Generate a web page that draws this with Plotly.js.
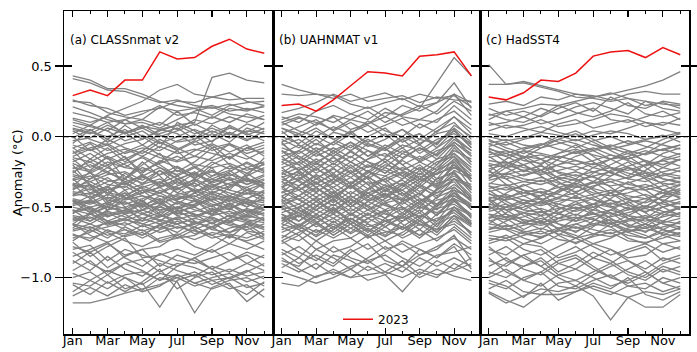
<!DOCTYPE html>
<html>
<head>
<meta charset="utf-8">
<script src="https://cdn.plot.ly/plotly-3.0.1.min.js"></script>
<style>html,body{margin:0;padding:0;background:#fff;}#chart{width:697px;height:352px;}</style>
</head>
<body>
<div id="chart"></div>
<script>
// ---- data ----
const monthNums = [1,2,3,4,5,6,7,8,9,10,11,12];
const tickVals = [1,3,5,7,9,11];
const tickText = ['Jan','Mar','May','Jul','Sep','Nov'];
const yTickVals = [-1.0,-0.5,0.0,0.5];
const panelTitles = ['(a) CLASSnmat v2','(b) UAHNMAT v1','(c) HadSST4'];
const yTitle = 'Anomaly (°C)';

const class2023 = [0.29,0.33,0.29,0.40,0.40,0.60,0.55,0.56,0.64,0.69,0.62,0.59];
const uah2023   = [0.22,0.23,0.18,0.26,0.36,0.46,0.45,0.43,0.57,0.58,0.60,0.43];
const hadsst2023 = [0.28,0.26,0.31,0.40,0.39,0.45,0.57,0.60,0.61,0.56,0.63,0.58];

const classGray = [
[0.43,0.40,0.34,0.34,0.30,0.25,0.22,0.20,0.22,0.18,0.20,0.17],
[0.41,0.38,0.33,0.32,0.28,0.24,0.26,0.22,0.20,0.23,0.19,0.21],
[0.12,0.08,0.15,0.20,0.25,0.33,0.37,0.30,0.28,0.31,0.25,0.22],
[0.05,0.02,0.08,0.03,0.07,0.05,0.08,0.10,0.42,0.45,0.40,0.38],
[0.26,0.22,0.20,0.15,0.18,0.20,0.25,0.24,0.28,0.26,0.27,0.27],
[0.25,0.24,0.17,0.14,0.12,0.21,0.18,0.20,0.15,0.22,0.24,0.25],
[0.17,0.14,0.10,0.12,0.16,0.22,0.15,0.17,0.13,0.20,0.18,0.22],
[0.21,0.17,0.12,0.09,0.10,0.06,0.12,0.18,0.21,0.16,0.14,0.12],
[0.13,0.10,0.14,0.09,0.12,0.08,0.18,0.08,0.14,0.10,0.16,0.12],
[0.10,0.07,0.04,0.12,0.06,0.10,0.05,0.12,0.09,0.14,0.10,0.15],
[0.06,0.03,0.00,0.05,-0.02,0.04,0.08,0.02,0.06,0.01,0.09,0.05],
[0.02,0.08,0.04,-0.03,0.01,-0.05,0.00,0.05,0.00,0.06,0.03,0.10],
[-0.03,-0.01,0.06,0.02,0.08,0.01,-0.04,-0.02,0.04,-0.01,0.04,0.02],
[-0.08,-0.04,-0.10,-0.05,-0.02,0.05,0.02,-0.06,-0.03,0.03,-0.02,0.00],
[-0.12,-0.08,-0.05,-0.12,-0.08,-0.10,-0.03,0.01,-0.08,-0.05,-0.10,-0.06],
[-0.15,-0.18,-0.12,-0.09,-0.14,-0.07,-0.12,-0.09,-0.12,-0.15,-0.08,-0.12],
[-0.18,-0.12,-0.20,-0.16,-0.10,-0.15,-0.18,-0.14,-0.17,-0.12,-0.16,-0.10],
[-0.22,-0.25,-0.18,-0.22,-0.24,-0.19,-0.14,-0.20,-0.22,-0.19,-0.24,-0.20],
[-0.25,-0.20,-0.26,-0.30,-0.22,-0.27,-0.24,-0.29,-0.25,-0.28,-0.22,-0.26],
[-0.28,-0.32,-0.27,-0.25,-0.31,-0.24,-0.30,-0.26,-0.32,-0.27,-0.30,-0.33],
[-0.31,-0.28,-0.34,-0.36,-0.29,-0.33,-0.28,-0.35,-0.30,-0.34,-0.36,-0.31],
[-0.34,-0.38,-0.32,-0.30,-0.37,-0.40,-0.35,-0.31,-0.38,-0.33,-0.31,-0.36],
[-0.37,-0.34,-0.40,-0.42,-0.36,-0.32,-0.40,-0.43,-0.36,-0.40,-0.44,-0.39],
[-0.40,-0.43,-0.38,-0.35,-0.42,-0.45,-0.41,-0.38,-0.43,-0.46,-0.40,-0.42],
[-0.42,-0.40,-0.45,-0.48,-0.44,-0.40,-0.46,-0.49,-0.45,-0.42,-0.47,-0.45],
[-0.45,-0.48,-0.43,-0.47,-0.50,-0.47,-0.44,-0.42,-0.48,-0.51,-0.46,-0.49],
[-0.48,-0.45,-0.50,-0.53,-0.47,-0.52,-0.50,-0.46,-0.52,-0.49,-0.53,-0.50],
[-0.50,-0.53,-0.48,-0.51,-0.55,-0.50,-0.54,-0.57,-0.51,-0.55,-0.52,-0.56],
[-0.53,-0.50,-0.56,-0.54,-0.52,-0.57,-0.53,-0.50,-0.56,-0.53,-0.58,-0.54],
[-0.56,-0.58,-0.53,-0.57,-0.60,-0.56,-0.59,-0.55,-0.58,-0.61,-0.56,-0.59],
[-0.59,-0.55,-0.60,-0.63,-0.58,-0.62,-0.57,-0.61,-0.64,-0.58,-0.61,-0.57],
[-0.62,-0.65,-0.61,-0.58,-0.64,-0.60,-0.65,-0.62,-0.59,-0.63,-0.66,-0.62],
[-0.66,-0.62,-0.67,-0.69,-0.63,-0.68,-0.64,-0.67,-0.70,-0.65,-0.62,-0.66],
[-0.70,-0.72,-0.68,-0.74,-0.78,-0.72,-0.69,-0.73,-0.68,-0.71,-0.74,-0.70],
[-0.10,-0.22,-0.15,-0.30,-0.20,-0.12,-0.25,-0.18,-0.08,-0.20,-0.28,-0.15],
[-0.35,-0.25,-0.42,-0.30,-0.18,-0.28,-0.40,-0.32,-0.22,-0.38,-0.26,-0.34],
[-0.55,-0.45,-0.38,-0.50,-0.60,-0.48,-0.36,-0.45,-0.55,-0.42,-0.50,-0.40],
[-0.20,-0.35,-0.48,-0.40,-0.52,-0.45,-0.55,-0.48,-0.40,-0.46,-0.38,-0.44],
[-0.65,-0.55,-0.50,-0.42,-0.35,-0.40,-0.32,-0.38,-0.45,-0.36,-0.30,-0.35],
[-0.45,-0.52,-0.60,-0.66,-0.70,-0.63,-0.58,-0.66,-0.61,-0.68,-0.64,-0.72],
[-0.30,-0.40,-0.35,-0.44,-0.38,-0.48,-0.52,-0.45,-0.50,-0.44,-0.48,-0.52],
[0.00,-0.10,-0.06,-0.15,-0.25,-0.18,-0.10,-0.22,-0.15,-0.05,-0.14,-0.20],
[-0.05,0.05,-0.02,0.08,0.00,-0.08,0.10,0.04,-0.04,0.08,0.02,-0.03],
[-0.58,-0.62,-0.55,-0.52,-0.45,-0.55,-0.62,-0.58,-0.52,-0.60,-0.55,-0.48],
[-0.38,-0.30,-0.25,-0.32,-0.28,-0.22,-0.30,-0.36,-0.28,-0.24,-0.32,-0.27],
[-0.48,-0.42,-0.52,-0.44,-0.40,-0.36,-0.45,-0.40,-0.35,-0.30,-0.38,-0.33],
[-0.72,-0.68,-0.60,-0.55,-0.62,-0.57,-0.50,-0.55,-0.62,-0.56,-0.60,-0.64],
[-0.62,-0.70,-0.75,-0.70,-0.66,-0.74,-0.70,-0.64,-0.70,-0.76,-0.68,-0.73],
[-0.12,-0.05,-0.15,-0.22,-0.14,-0.20,-0.28,-0.22,-0.30,-0.25,-0.18,-0.24],
[-0.26,-0.16,-0.22,-0.14,-0.28,-0.34,-0.22,-0.30,-0.20,-0.14,-0.22,-0.18],
[0.08,0.04,0.10,0.02,0.06,0.00,0.04,0.09,0.03,0.07,0.01,0.06],
[-0.01,0.05,-0.04,0.03,-0.06,0.02,0.06,-0.02,0.08,0.02,-0.03,0.04],
[-0.06,-0.10,-0.02,-0.08,-0.12,-0.04,-0.09,-0.03,-0.10,-0.06,-0.12,-0.08],
[-0.14,-0.09,-0.16,-0.11,-0.06,-0.13,-0.17,-0.10,-0.05,-0.11,-0.06,-0.14],
[-0.19,-0.24,-0.14,-0.20,-0.26,-0.17,-0.22,-0.27,-0.18,-0.23,-0.19,-0.25],
[-0.23,-0.18,-0.25,-0.19,-0.15,-0.22,-0.27,-0.21,-0.28,-0.21,-0.26,-0.19],
[-0.27,-0.30,-0.22,-0.28,-0.33,-0.27,-0.21,-0.28,-0.24,-0.31,-0.28,-0.22],
[-0.30,-0.26,-0.31,-0.34,-0.27,-0.35,-0.31,-0.25,-0.33,-0.29,-0.34,-0.30],
[-0.33,-0.36,-0.29,-0.38,-0.34,-0.30,-0.37,-0.33,-0.40,-0.35,-0.29,-0.37],
[-0.36,-0.32,-0.38,-0.33,-0.40,-0.36,-0.32,-0.39,-0.34,-0.38,-0.41,-0.33],
[-0.39,-0.41,-0.36,-0.44,-0.38,-0.42,-0.45,-0.37,-0.41,-0.44,-0.38,-0.40],
[-0.41,-0.37,-0.44,-0.40,-0.46,-0.38,-0.43,-0.46,-0.39,-0.43,-0.45,-0.47],
[-0.44,-0.47,-0.41,-0.45,-0.42,-0.48,-0.42,-0.44,-0.49,-0.45,-0.50,-0.43],
[-0.46,-0.50,-0.47,-0.43,-0.49,-0.44,-0.51,-0.48,-0.44,-0.50,-0.47,-0.52],
[-0.49,-0.46,-0.52,-0.50,-0.46,-0.53,-0.47,-0.52,-0.55,-0.47,-0.54,-0.48],
[-0.52,-0.55,-0.49,-0.55,-0.52,-0.49,-0.56,-0.53,-0.49,-0.57,-0.51,-0.55],
[-0.54,-0.51,-0.57,-0.52,-0.58,-0.54,-0.50,-0.56,-0.53,-0.51,-0.57,-0.52],
[-0.57,-0.60,-0.54,-0.60,-0.55,-0.59,-0.62,-0.58,-0.61,-0.56,-0.59,-0.61],
[-0.60,-0.57,-0.63,-0.59,-0.62,-0.65,-0.60,-0.64,-0.57,-0.62,-0.64,-0.58],
[-0.63,-0.67,-0.64,-0.61,-0.67,-0.63,-0.68,-0.60,-0.66,-0.68,-0.61,-0.65],
[-0.67,-0.64,-0.70,-0.66,-0.72,-0.66,-0.62,-0.69,-0.64,-0.60,-0.67,-0.69],
[-0.69,-0.74,-0.66,-0.71,-0.68,-0.75,-0.72,-0.66,-0.72,-0.69,-0.72,-0.67],
[-0.16,-0.26,-0.20,-0.34,-0.28,-0.36,-0.30,-0.40,-0.32,-0.26,-0.34,-0.28],
[-0.42,-0.34,-0.46,-0.38,-0.50,-0.42,-0.48,-0.40,-0.46,-0.52,-0.44,-0.38],
[-0.52,-0.60,-0.52,-0.46,-0.54,-0.60,-0.52,-0.60,-0.66,-0.58,-0.52,-0.60],
[-0.08,-0.16,-0.08,-0.18,-0.10,-0.02,-0.08,-0.14,-0.06,-0.16,-0.08,-0.04],
[-0.24,-0.34,-0.40,-0.32,-0.40,-0.32,-0.38,-0.30,-0.36,-0.30,-0.40,-0.46],
[-0.62,-0.54,-0.46,-0.54,-0.48,-0.56,-0.46,-0.50,-0.42,-0.48,-0.44,-0.52],
[-0.34,-0.44,-0.36,-0.26,-0.34,-0.24,-0.34,-0.26,-0.34,-0.42,-0.36,-0.44],
[-0.74,-0.66,-0.72,-0.64,-0.70,-0.62,-0.72,-0.70,-0.64,-0.72,-0.62,-0.70],
[0.04,-0.02,-0.06,0.00,0.04,-0.04,-0.10,-0.04,0.02,-0.04,0.06,0.02],
[-0.46,-0.54,-0.62,-0.58,-0.52,-0.46,-0.56,-0.62,-0.56,-0.48,-0.56,-0.50],
[-0.78,-0.82,-0.76,-0.84,-0.80,-0.78,-0.70,-0.78,-0.82,-0.76,-0.80,-0.74],
[-0.75,-0.85,-0.78,-0.72,-0.86,-0.84,-0.80,-0.84,-0.78,-0.70,-0.75,-0.80],
[-0.80,-0.77,-0.88,-0.80,-0.84,-0.88,-0.92,-0.86,-0.80,-0.88,-0.82,-0.86],
[-0.85,-0.80,-0.75,-0.86,-0.92,-0.83,-0.88,-0.90,-0.86,-0.82,-0.90,-0.84],
[-0.90,-0.82,-0.93,-0.85,-0.80,-0.92,-0.84,-0.88,-0.94,-0.88,-0.84,-0.92],
[-0.88,-0.95,-0.85,-0.94,-0.99,-0.90,-0.95,-0.99,-0.92,-0.96,-0.90,-0.95],
[-0.95,-0.88,-0.98,-0.90,-0.87,-0.96,-0.90,-0.93,-0.98,-0.94,-0.99,-0.96],
[-0.97,-1.02,-0.95,-1.00,-1.05,-0.97,-1.00,-0.96,-1.02,-1.00,-0.95,-1.01],
[-1.00,-0.96,-1.04,-0.98,-0.96,-1.02,-0.98,-1.04,-1.00,-0.97,-1.03,-0.99],
[-1.04,-1.06,-0.98,-1.08,-1.04,-1.21,-1.02,-0.98,-1.05,-1.00,-1.07,-1.04],
[-1.10,-1.02,-1.08,-1.00,-1.09,-1.00,-1.03,-1.25,-1.07,-1.02,-1.00,-1.06],
[-1.13,-1.07,-1.13,-1.05,-1.10,-1.06,-0.98,-1.04,-1.08,-1.04,-1.17,-1.08],
[-1.18,-1.18,-1.15,-1.11,-1.08,-1.05,-1.00,-1.06,-1.02,-1.08,-1.05,-1.14],
[-1.05,-1.12,-1.03,-1.10,-1.03,-0.94,-1.08,-1.00,-0.96,-1.06,-1.12,-1.03],
[-0.82,-0.90,-0.96,-0.90,-0.95,-1.02,-0.92,-0.86,-0.94,-1.01,-0.96,-0.90]
];

const uahGray = [
[0.37,0.33,0.30,0.29,0.23,0.20,0.24,0.27,0.21,0.24,0.30,0.24],
[0.30,0.29,0.30,0.27,0.30,0.25,0.27,0.29,0.24,0.28,0.26,0.25],
[0.17,0.20,0.24,0.30,0.25,0.28,0.31,0.26,0.30,0.27,0.29,0.21],
[0.10,0.14,0.08,0.15,0.12,0.09,0.17,0.15,0.20,0.38,0.56,0.43],
[0.12,0.16,0.14,0.10,0.16,0.21,0.14,0.22,0.18,0.24,0.38,0.20],
[0.14,0.10,0.18,0.22,0.16,0.12,0.20,0.14,0.12,0.18,0.30,0.15],
[0.08,0.13,0.10,0.05,0.12,0.18,0.10,0.16,0.22,0.16,0.25,0.18],
[0.06,0.02,0.09,0.14,0.05,0.09,0.14,0.08,0.12,0.10,0.22,0.12],
[0.02,0.07,0.12,0.04,0.10,0.03,0.08,0.13,0.06,0.12,0.18,0.08],
[0.10,0.04,0.00,0.07,0.02,0.11,0.04,0.00,0.09,0.03,0.14,0.05],
[0.00,-0.05,0.04,-0.02,-0.08,0.00,0.06,-0.04,0.02,-0.06,0.08,0.00],
[-0.04,0.02,-0.06,0.03,0.00,-0.07,-0.02,0.05,-0.05,0.02,0.05,-0.08],
[-0.08,-0.12,-0.05,-0.10,-0.04,-0.10,-0.14,-0.06,-0.10,-0.02,0.02,-0.05],
[-0.12,-0.06,-0.14,-0.08,-0.15,-0.05,-0.09,-0.15,-0.08,-0.13,-0.04,-0.12],
[-0.16,-0.20,-0.12,-0.18,-0.11,-0.18,-0.22,-0.12,-0.17,-0.10,-0.06,-0.18],
[-0.20,-0.14,-0.22,-0.15,-0.22,-0.16,-0.12,-0.20,-0.14,-0.20,-0.10,-0.16],
[-0.24,-0.28,-0.19,-0.26,-0.18,-0.25,-0.28,-0.22,-0.27,-0.18,-0.14,-0.25],
[-0.27,-0.22,-0.30,-0.23,-0.29,-0.21,-0.24,-0.30,-0.22,-0.27,-0.20,-0.30],
[-0.30,-0.35,-0.27,-0.33,-0.26,-0.34,-0.30,-0.25,-0.32,-0.26,-0.22,-0.28],
[-0.34,-0.29,-0.36,-0.30,-0.37,-0.29,-0.35,-0.38,-0.30,-0.35,-0.28,-0.36],
[-0.37,-0.42,-0.33,-0.40,-0.32,-0.40,-0.36,-0.31,-0.39,-0.33,-0.30,-0.34],
[-0.40,-0.36,-0.43,-0.36,-0.44,-0.37,-0.42,-0.45,-0.36,-0.42,-0.34,-0.43],
[-0.43,-0.48,-0.40,-0.47,-0.39,-0.46,-0.42,-0.38,-0.46,-0.40,-0.36,-0.45],
[-0.46,-0.42,-0.49,-0.42,-0.50,-0.43,-0.49,-0.52,-0.44,-0.48,-0.40,-0.49],
[-0.49,-0.54,-0.46,-0.52,-0.45,-0.52,-0.47,-0.44,-0.51,-0.45,-0.42,-0.50],
[-0.52,-0.48,-0.55,-0.48,-0.55,-0.49,-0.55,-0.58,-0.50,-0.54,-0.46,-0.55],
[-0.55,-0.60,-0.52,-0.58,-0.51,-0.58,-0.53,-0.50,-0.57,-0.51,-0.48,-0.56],
[-0.58,-0.54,-0.61,-0.55,-0.62,-0.55,-0.60,-0.64,-0.56,-0.60,-0.52,-0.61],
[-0.62,-0.66,-0.58,-0.64,-0.58,-0.64,-0.60,-0.56,-0.63,-0.58,-0.54,-0.63],
[-0.66,-0.62,-0.68,-0.62,-0.69,-0.62,-0.67,-0.70,-0.62,-0.66,-0.60,-0.68],
[-0.70,-0.74,-0.66,-0.72,-0.65,-0.71,-0.68,-0.64,-0.70,-0.66,-0.62,-0.72],
[-0.22,-0.32,-0.40,-0.30,-0.20,-0.30,-0.42,-0.34,-0.24,-0.36,-0.18,-0.32],
[-0.45,-0.35,-0.28,-0.38,-0.48,-0.38,-0.30,-0.40,-0.50,-0.38,-0.26,-0.40],
[-0.10,-0.20,-0.30,-0.22,-0.34,-0.26,-0.18,-0.28,-0.36,-0.26,-0.16,-0.30],
[-0.60,-0.50,-0.44,-0.54,-0.42,-0.50,-0.58,-0.46,-0.40,-0.48,-0.36,-0.46],
[-0.35,-0.45,-0.52,-0.44,-0.56,-0.46,-0.40,-0.50,-0.58,-0.48,-0.40,-0.52],
[-0.72,-0.64,-0.56,-0.66,-0.55,-0.62,-0.70,-0.60,-0.54,-0.64,-0.50,-0.60],
[-0.05,-0.14,-0.20,-0.10,-0.18,-0.25,-0.15,-0.08,-0.18,-0.12,0.00,-0.10],
[-0.55,-0.64,-0.70,-0.60,-0.68,-0.58,-0.52,-0.62,-0.70,-0.60,-0.45,-0.58],
[-0.18,-0.10,-0.02,-0.12,-0.04,-0.14,-0.08,0.00,-0.06,0.04,0.10,-0.02],
[-0.28,-0.38,-0.32,-0.42,-0.35,-0.45,-0.38,-0.44,-0.34,-0.40,-0.30,-0.42],
[-0.42,-0.52,-0.58,-0.50,-0.62,-0.54,-0.64,-0.56,-0.48,-0.56,-0.42,-0.50],
[-0.50,-0.42,-0.36,-0.46,-0.34,-0.42,-0.36,-0.46,-0.42,-0.30,-0.25,-0.38],
[-0.64,-0.56,-0.62,-0.52,-0.60,-0.68,-0.58,-0.66,-0.60,-0.68,-0.56,-0.64],
[-0.32,-0.24,-0.18,-0.28,-0.36,-0.28,-0.20,-0.24,-0.30,-0.22,-0.12,-0.24],
[0.06,0.00,0.06,-0.02,0.03,0.08,0.00,0.05,-0.02,0.06,0.14,0.02],
[-0.02,-0.08,0.00,-0.06,0.02,-0.04,0.02,-0.08,-0.02,-0.05,0.06,-0.04],
[-0.06,-0.02,-0.10,-0.04,-0.10,-0.02,-0.08,-0.02,-0.12,-0.04,0.04,-0.08],
[-0.10,-0.16,-0.08,-0.14,-0.06,-0.14,-0.06,-0.12,-0.06,-0.14,-0.02,-0.10],
[-0.14,-0.10,-0.18,-0.12,-0.18,-0.10,-0.18,-0.10,-0.16,-0.08,0.00,-0.14],
[-0.18,-0.24,-0.16,-0.22,-0.14,-0.22,-0.16,-0.24,-0.18,-0.24,-0.08,-0.20],
[-0.22,-0.18,-0.26,-0.19,-0.26,-0.20,-0.26,-0.17,-0.24,-0.16,-0.12,-0.22],
[-0.26,-0.31,-0.23,-0.29,-0.22,-0.30,-0.22,-0.28,-0.20,-0.30,-0.16,-0.27],
[-0.29,-0.25,-0.33,-0.27,-0.33,-0.25,-0.32,-0.26,-0.34,-0.24,-0.18,-0.32],
[-0.32,-0.38,-0.30,-0.36,-0.29,-0.37,-0.28,-0.35,-0.28,-0.37,-0.24,-0.30],
[-0.36,-0.31,-0.39,-0.33,-0.41,-0.32,-0.39,-0.33,-0.41,-0.30,-0.26,-0.38],
[-0.39,-0.45,-0.37,-0.43,-0.35,-0.43,-0.34,-0.42,-0.34,-0.44,-0.30,-0.37],
[-0.42,-0.38,-0.46,-0.39,-0.47,-0.40,-0.46,-0.40,-0.48,-0.37,-0.32,-0.46],
[-0.45,-0.51,-0.43,-0.49,-0.42,-0.49,-0.41,-0.48,-0.40,-0.50,-0.38,-0.44],
[-0.48,-0.44,-0.52,-0.45,-0.53,-0.46,-0.52,-0.46,-0.54,-0.43,-0.38,-0.52],
[-0.51,-0.57,-0.49,-0.55,-0.48,-0.56,-0.47,-0.54,-0.46,-0.56,-0.44,-0.50],
[-0.54,-0.50,-0.58,-0.51,-0.59,-0.52,-0.58,-0.51,-0.60,-0.49,-0.44,-0.57],
[-0.57,-0.63,-0.55,-0.61,-0.54,-0.61,-0.54,-0.60,-0.52,-0.62,-0.50,-0.56],
[-0.60,-0.56,-0.64,-0.58,-0.65,-0.58,-0.64,-0.57,-0.66,-0.55,-0.50,-0.62],
[-0.64,-0.70,-0.61,-0.68,-0.60,-0.67,-0.60,-0.66,-0.58,-0.68,-0.56,-0.62],
[-0.68,-0.63,-0.71,-0.64,-0.72,-0.65,-0.71,-0.64,-0.72,-0.62,-0.56,-0.70],
[-0.04,-0.16,-0.24,-0.14,-0.26,-0.16,-0.08,-0.20,-0.30,-0.20,-0.06,-0.18],
[-0.40,-0.30,-0.22,-0.32,-0.24,-0.34,-0.44,-0.36,-0.26,-0.34,-0.20,-0.36],
[-0.50,-0.60,-0.50,-0.40,-0.50,-0.40,-0.48,-0.56,-0.46,-0.38,-0.30,-0.44],
[-0.14,-0.24,-0.34,-0.26,-0.36,-0.28,-0.38,-0.30,-0.22,-0.32,-0.22,-0.28],
[-0.62,-0.52,-0.60,-0.70,-0.62,-0.70,-0.62,-0.54,-0.62,-0.70,-0.58,-0.68],
[-0.26,-0.18,-0.10,-0.20,-0.10,-0.18,-0.26,-0.16,-0.08,-0.16,-0.04,-0.14],
[-0.46,-0.56,-0.46,-0.54,-0.44,-0.52,-0.44,-0.34,-0.44,-0.52,-0.40,-0.48],
[-0.36,-0.26,-0.36,-0.44,-0.34,-0.24,-0.32,-0.42,-0.32,-0.24,-0.14,-0.30],
[-0.58,-0.66,-0.74,-0.66,-0.58,-0.66,-0.74,-0.68,-0.60,-0.66,-0.52,-0.62],
[-0.74,-0.68,-0.62,-0.70,-0.62,-0.72,-0.64,-0.72,-0.66,-0.74,-0.64,-0.74],
[0.04,-0.06,-0.12,-0.04,0.04,-0.06,-0.10,-0.02,0.02,-0.08,0.04,-0.06],
[-0.76,-0.70,-0.80,-0.74,-0.72,-0.80,-0.74,-0.82,-0.76,-0.72,-0.66,-0.76],
[-0.80,-0.86,-0.74,-0.82,-0.78,-0.70,-0.80,-0.76,-0.84,-0.78,-0.72,-0.80],
[-0.74,-0.82,-0.88,-0.78,-0.86,-0.90,-0.82,-0.74,-0.80,-0.86,-0.76,-0.84],
[-0.84,-0.78,-0.86,-0.92,-0.82,-0.76,-0.88,-0.92,-0.84,-0.80,-0.70,-0.88],
[-0.88,-0.92,-0.80,-0.86,-0.94,-0.86,-0.78,-0.86,-0.92,-0.84,-0.82,-0.78],
[-0.93,-0.86,-0.94,-0.84,-0.88,-0.95,-0.90,-0.96,-0.86,-0.92,-0.86,-0.92],
[-0.90,-0.96,-0.90,-0.98,-0.92,-0.88,-0.96,-0.88,-0.98,-0.88,-0.94,-0.86],
[-0.86,-0.94,-1.00,-0.94,-1.00,-0.92,-0.98,-1.10,-0.96,-1.00,-0.90,-0.96],
[-1.04,-1.06,-0.99,-0.96,-1.00,-0.98,-0.96,-1.00,-0.94,-0.98,-0.95,-0.90],
[-0.96,-1.00,-1.04,-1.00,-0.94,-1.02,-0.98,-0.92,-1.00,-0.94,-0.99,-1.02],
[-0.82,-0.90,-0.84,-0.90,-0.80,-0.88,-0.84,-0.92,-0.80,-0.86,-0.78,-0.94]
];

const hadsstGray = [
[0.51,0.37,0.38,0.35,0.32,0.28,0.27,0.25,0.27,0.22,0.24,0.20],
[0.37,0.37,0.39,0.36,0.33,0.30,0.28,0.31,0.27,0.25,0.23,0.22],
[0.15,0.18,0.20,0.23,0.22,0.25,0.28,0.30,0.33,0.36,0.40,0.46],
[0.23,0.25,0.22,0.28,0.26,0.30,0.29,0.26,0.30,0.32,0.30,0.30],
[0.20,0.15,0.18,0.14,0.20,0.24,0.18,0.28,0.22,0.20,0.25,0.23],
[0.12,0.18,0.14,0.20,0.16,0.21,0.24,0.20,0.16,0.25,0.20,0.18],
[0.16,0.12,0.10,0.15,0.22,0.17,0.14,0.18,0.24,0.16,0.14,0.17],
[0.08,0.10,0.14,0.09,0.12,0.16,0.20,0.12,0.10,0.14,0.18,0.12],
[0.10,0.06,0.08,0.12,0.07,0.09,0.12,0.16,0.14,0.10,0.08,0.13],
[0.04,0.08,0.06,0.03,0.09,0.12,0.06,0.09,0.12,0.07,0.10,0.08],
[0.02,0.00,0.04,0.07,0.03,0.00,0.04,0.02,0.06,0.10,0.05,0.02],
[-0.03,-0.06,-0.02,0.01,-0.04,-0.08,-0.03,0.00,-0.05,-0.02,0.01,-0.04],
[-0.07,-0.04,-0.09,-0.06,-0.02,-0.05,-0.10,-0.07,-0.03,-0.07,-0.10,-0.06],
[-0.11,-0.14,-0.10,-0.12,-0.15,-0.11,-0.08,-0.13,-0.16,-0.12,-0.09,-0.13],
[-0.15,-0.12,-0.17,-0.19,-0.14,-0.17,-0.20,-0.16,-0.12,-0.17,-0.20,-0.16],
[-0.19,-0.22,-0.20,-0.16,-0.21,-0.24,-0.19,-0.22,-0.24,-0.20,-0.17,-0.21],
[-0.23,-0.20,-0.24,-0.27,-0.24,-0.21,-0.25,-0.28,-0.22,-0.25,-0.28,-0.24],
[-0.27,-0.30,-0.27,-0.24,-0.29,-0.31,-0.28,-0.25,-0.30,-0.32,-0.27,-0.30],
[-0.31,-0.28,-0.32,-0.34,-0.30,-0.27,-0.32,-0.35,-0.33,-0.29,-0.33,-0.35],
[-0.35,-0.38,-0.35,-0.31,-0.36,-0.39,-0.35,-0.32,-0.37,-0.38,-0.35,-0.32],
[-0.39,-0.36,-0.40,-0.42,-0.39,-0.35,-0.40,-0.42,-0.40,-0.36,-0.40,-0.43],
[-0.43,-0.45,-0.42,-0.39,-0.44,-0.46,-0.43,-0.40,-0.45,-0.47,-0.43,-0.41],
[-0.46,-0.43,-0.47,-0.49,-0.46,-0.43,-0.48,-0.50,-0.47,-0.44,-0.48,-0.50],
[-0.50,-0.52,-0.50,-0.46,-0.50,-0.53,-0.50,-0.47,-0.51,-0.53,-0.50,-0.47],
[-0.53,-0.50,-0.54,-0.56,-0.54,-0.50,-0.55,-0.57,-0.54,-0.51,-0.55,-0.57],
[-0.57,-0.59,-0.57,-0.53,-0.58,-0.60,-0.57,-0.54,-0.58,-0.60,-0.57,-0.54],
[-0.60,-0.57,-0.61,-0.63,-0.60,-0.57,-0.62,-0.64,-0.60,-0.58,-0.62,-0.64],
[-0.64,-0.66,-0.63,-0.60,-0.65,-0.67,-0.63,-0.61,-0.66,-0.67,-0.64,-0.61],
[-0.68,-0.65,-0.69,-0.71,-0.67,-0.64,-0.69,-0.71,-0.67,-0.65,-0.69,-0.71],
[-0.72,-0.74,-0.70,-0.67,-0.73,-0.75,-0.71,-0.68,-0.74,-0.75,-0.72,-0.68],
[-0.10,-0.18,-0.25,-0.20,-0.12,-0.06,-0.14,-0.22,-0.28,-0.20,-0.12,-0.08],
[-0.30,-0.22,-0.15,-0.24,-0.32,-0.40,-0.32,-0.24,-0.18,-0.26,-0.34,-0.40],
[-0.48,-0.40,-0.34,-0.40,-0.50,-0.56,-0.48,-0.40,-0.32,-0.38,-0.46,-0.52],
[-0.20,-0.30,-0.38,-0.45,-0.40,-0.32,-0.28,-0.36,-0.44,-0.50,-0.42,-0.34],
[-0.58,-0.50,-0.45,-0.52,-0.62,-0.68,-0.60,-0.52,-0.46,-0.54,-0.62,-0.66],
[-0.40,-0.48,-0.56,-0.62,-0.55,-0.48,-0.44,-0.50,-0.58,-0.64,-0.56,-0.50],
[-0.66,-0.60,-0.54,-0.60,-0.70,-0.76,-0.70,-0.62,-0.56,-0.62,-0.70,-0.74],
[-0.05,-0.10,-0.15,-0.08,-0.02,0.02,-0.04,-0.10,-0.16,-0.12,-0.05,0.00],
[-0.45,-0.55,-0.62,-0.56,-0.48,-0.42,-0.50,-0.58,-0.64,-0.58,-0.50,-0.46],
[-0.25,-0.16,-0.10,-0.16,-0.26,-0.30,-0.22,-0.16,-0.10,-0.18,-0.26,-0.28],
[-0.55,-0.62,-0.68,-0.72,-0.66,-0.58,-0.54,-0.60,-0.68,-0.72,-0.66,-0.60],
[-0.35,-0.42,-0.48,-0.42,-0.34,-0.30,-0.38,-0.45,-0.52,-0.46,-0.38,-0.34],
[0.00,-0.03,-0.01,0.03,0.01,-0.03,0.01,0.04,0.02,-0.02,0.00,0.03],
[-0.05,-0.02,-0.06,-0.08,-0.05,-0.02,-0.06,-0.09,-0.06,-0.03,-0.06,-0.09],
[-0.09,-0.12,-0.08,-0.05,-0.09,-0.12,-0.09,-0.06,-0.10,-0.13,-0.09,-0.06],
[-0.13,-0.10,-0.14,-0.16,-0.12,-0.09,-0.13,-0.16,-0.14,-0.10,-0.14,-0.17],
[-0.17,-0.19,-0.15,-0.13,-0.17,-0.20,-0.17,-0.13,-0.17,-0.21,-0.17,-0.14],
[-0.21,-0.18,-0.22,-0.24,-0.20,-0.17,-0.22,-0.25,-0.21,-0.17,-0.22,-0.25],
[-0.25,-0.27,-0.24,-0.21,-0.25,-0.28,-0.25,-0.22,-0.26,-0.29,-0.25,-0.22],
[-0.29,-0.26,-0.30,-0.32,-0.28,-0.25,-0.29,-0.32,-0.29,-0.26,-0.30,-0.33],
[-0.33,-0.35,-0.32,-0.29,-0.33,-0.36,-0.33,-0.30,-0.34,-0.36,-0.32,-0.29],
[-0.37,-0.34,-0.38,-0.40,-0.36,-0.33,-0.37,-0.40,-0.37,-0.34,-0.38,-0.41],
[-0.41,-0.43,-0.40,-0.37,-0.41,-0.44,-0.41,-0.38,-0.42,-0.44,-0.40,-0.37],
[-0.44,-0.41,-0.45,-0.47,-0.43,-0.40,-0.45,-0.48,-0.44,-0.41,-0.45,-0.48],
[-0.48,-0.50,-0.47,-0.44,-0.48,-0.51,-0.48,-0.45,-0.49,-0.51,-0.47,-0.44],
[-0.51,-0.48,-0.52,-0.54,-0.51,-0.48,-0.52,-0.55,-0.52,-0.49,-0.53,-0.55],
[-0.55,-0.57,-0.54,-0.51,-0.55,-0.58,-0.55,-0.52,-0.56,-0.58,-0.54,-0.51],
[-0.58,-0.55,-0.59,-0.61,-0.58,-0.55,-0.59,-0.62,-0.59,-0.56,-0.60,-0.62],
[-0.62,-0.64,-0.61,-0.58,-0.62,-0.65,-0.62,-0.59,-0.63,-0.65,-0.61,-0.58],
[-0.66,-0.63,-0.67,-0.69,-0.65,-0.62,-0.66,-0.69,-0.65,-0.62,-0.66,-0.69],
[-0.70,-0.72,-0.68,-0.65,-0.69,-0.72,-0.69,-0.66,-0.70,-0.72,-0.68,-0.65],
[-0.14,-0.22,-0.28,-0.24,-0.16,-0.10,-0.18,-0.26,-0.30,-0.24,-0.16,-0.12],
[-0.34,-0.26,-0.20,-0.28,-0.36,-0.42,-0.36,-0.28,-0.22,-0.30,-0.38,-0.44],
[-0.52,-0.44,-0.38,-0.44,-0.54,-0.60,-0.52,-0.44,-0.36,-0.42,-0.50,-0.56],
[-0.24,-0.34,-0.42,-0.48,-0.44,-0.36,-0.32,-0.40,-0.48,-0.54,-0.46,-0.38],
[-0.62,-0.54,-0.48,-0.56,-0.66,-0.72,-0.64,-0.56,-0.50,-0.58,-0.66,-0.70],
[-0.44,-0.52,-0.60,-0.66,-0.58,-0.52,-0.48,-0.54,-0.62,-0.68,-0.60,-0.54],
[-0.02,-0.08,-0.12,-0.06,0.00,0.04,-0.02,-0.08,-0.12,-0.08,-0.02,0.02],
[-0.49,-0.58,-0.66,-0.60,-0.52,-0.46,-0.54,-0.62,-0.68,-0.62,-0.54,-0.50],
[-0.28,-0.20,-0.14,-0.20,-0.30,-0.34,-0.26,-0.20,-0.14,-0.22,-0.30,-0.32],
[-0.59,-0.66,-0.72,-0.76,-0.70,-0.62,-0.58,-0.64,-0.72,-0.76,-0.70,-0.64],
[-0.38,-0.46,-0.52,-0.46,-0.38,-0.34,-0.42,-0.49,-0.56,-0.50,-0.42,-0.38],
[-0.08,-0.14,-0.20,-0.26,-0.20,-0.14,-0.10,-0.16,-0.22,-0.28,-0.22,-0.16],
[-0.74,-0.70,-0.76,-0.72,-0.66,-0.70,-0.76,-0.72,-0.66,-0.70,-0.76,-0.74],
[-0.76,-0.72,-0.80,-0.84,-0.78,-0.72,-0.78,-0.84,-0.80,-0.76,-0.82,-0.78],
[-0.80,-0.84,-0.76,-0.78,-0.86,-0.82,-0.76,-0.80,-0.86,-0.84,-0.76,-0.80],
[-0.84,-0.78,-0.86,-0.92,-0.84,-0.78,-0.86,-0.90,-0.82,-0.78,-0.88,-0.84],
[-0.88,-0.92,-0.84,-0.80,-0.90,-0.94,-0.86,-0.80,-0.88,-0.94,-0.86,-0.90],
[-0.92,-0.86,-0.94,-0.98,-0.90,-0.86,-0.94,-1.00,-0.94,-0.88,-0.96,-0.92],
[-0.96,-1.00,-0.92,-0.88,-0.98,-1.02,-0.96,-0.90,-0.98,-1.02,-0.94,-0.98],
[-1.00,-0.94,-1.02,-1.06,-0.98,-0.94,-1.00,-1.06,-1.02,-0.96,-1.04,-1.00],
[-1.04,-1.08,-1.00,-0.96,-1.06,-1.08,-1.02,-0.98,-1.06,-1.08,-1.00,-1.04],
[-1.08,-1.02,-1.10,-1.12,-1.04,-1.02,-1.08,-1.12,-1.06,-1.04,-1.10,-1.06],
[-1.11,-1.18,-1.13,-1.08,-1.10,-1.06,-1.13,-1.30,-1.14,-1.10,-1.12,-1.08],
[-1.10,-1.16,-1.21,-1.12,-1.12,-1.10,-1.06,-1.10,-1.14,-1.21,-1.21,-1.12],
[-0.98,-0.90,-0.84,-0.92,-1.00,-1.06,-0.98,-0.92,-0.88,-0.96,-1.04,-1.08],
[-0.86,-0.96,-1.02,-0.96,-0.88,-0.84,-0.92,-1.00,-1.04,-0.98,-0.90,-0.86],
[-0.78,-0.88,-0.92,-0.86,-0.96,-0.90,-0.82,-0.88,-0.96,-1.00,-0.92,-0.96],
[-1.02,-1.06,-1.14,-1.04,-1.16,-1.10,-1.04,-1.08,-1.00,-1.12,-1.16,-1.10]
];

// ---- build ----
const grayColor = '#808080';
const redColor = '#ee1111';
const panels = [
  {gray: classGray, red: class2023, xa: 'x', ya: 'y', yo: 'y4'},
  {gray: uahGray, red: uah2023, xa: 'x2', ya: 'y2', yo: 'y5'},
  {gray: hadsstGray, red: hadsst2023, xa: 'x3', ya: 'y3', yo: 'y6'}
];
const traces = [];
panels.forEach((p) => {
  p.gray.forEach(row => {
    traces.push({x: monthNums, y: row, xaxis: p.xa, yaxis: p.ya, type: 'scatter', mode: 'lines',
      line: {color: grayColor, width: 1.3}, showlegend: false, hoverinfo: 'skip'});
  });
});
panels.forEach((p, pi) => {
  traces.push({x: monthNums, y: p.red, xaxis: p.xa, yaxis: p.ya, type: 'scatter', mode: 'lines',
    name: '2023', legendgroup: 'y2023', line: {color: redColor, width: 1.5},
    showlegend: pi === 1, hoverinfo: 'skip'});
  traces.push({x: [null], y: [null], xaxis: p.xa, yaxis: p.yo, type: 'scatter', mode: 'lines', showlegend: false, hoverinfo: 'skip'});
});

const yRange = [-1.4, 0.89];
const xRange = [0.5, 12.5];
const domains = [[0, 0.3344], [0.3344, 0.6656], [0.6656, 1]];

function xAxis(i) {
  return {domain: domains[i], range: xRange, tickvals: tickVals, ticktext: tickText, ticks: 'inside',
    ticklen: 6, tickwidth: 1.2, tickcolor: '#000', showline: true, linecolor: '#000', linewidth: 1.5,
    mirror: 'ticks', showgrid: false, zeroline: false, tickfont: {size: 13}, ticklabelstandoff: -6,
    minor: {dtick: 1, tick0: 0, ticks: 'inside', ticklen: 3, tickwidth: 1, tickcolor: '#000', showgrid: false},
    anchor: ['y','y2','y3'][i]};
}
function yAxis(i, labels) {
  return {range: yRange, tickvals: yTickVals, tickformat: '.1f', ticks: 'outside', ticklen: 8, tickwidth: 1.5,
    tickcolor: '#000', showline: true, linecolor: '#000', linewidth: 1.5, mirror: 'ticks', showgrid: false,
    zeroline: false, showticklabels: labels, tickfont: {size: 13}, anchor: ['x','x2','x3'][i]};
}
function yOverlay(i) {
  return {range: yRange, tickvals: yTickVals, ticks: 'inside', ticklen: 8, tickwidth: 1.5, tickcolor: '#000',
    showline: false, mirror: 'ticks', showgrid: false, zeroline: false, showticklabels: false,
    overlaying: ['y','y2','y3'][i], anchor: ['x','x2','x3'][i]};
}

const annotations = panelTitles.map((t, i) => ({text: t, xref: ['x','x2','x3'][i] + ' domain', yref: ['y','y2','y3'][i] + ' domain',
    x: 0.02, y: 0.91, xanchor: 'left', yanchor: 'middle', showarrow: false, font: {size: 12}}));
annotations.push({text: yTitle, xref: 'paper', yref: 'paper', x: -0.074, y: 0.5, xanchor: 'center', yanchor: 'middle',
    textangle: -90, showarrow: false, font: {size: 13}});

const layout = {
  width: 697, height: 352,
  margin: {l: 64, r: 8, t: 11, b: 18},
  paper_bgcolor: '#fff', plot_bgcolor: '#fff',
  font: {family: 'DejaVu Sans, sans-serif', size: 12, color: '#000'},
  showlegend: true,
  legend: {x: 0.4384, y: 0.046, xanchor: 'left', yanchor: 'middle', bgcolor: 'rgba(0,0,0,0)',
    borderwidth: 0, font: {size: 12}, itemwidth: 30},
  xaxis: xAxis(0), xaxis2: xAxis(1), xaxis3: xAxis(2),
  yaxis: yAxis(0, true), yaxis2: yAxis(1, false), yaxis3: yAxis(2, false),
  yaxis4: yOverlay(0), yaxis5: yOverlay(1), yaxis6: yOverlay(2),
  shapes: ['x','x2','x3'].map((xa, i) => ({type: 'line', xref: xa + ' domain', x0: 0, x1: 1,
    yref: ['y','y2','y3'][i], y0: 0, y1: 0, line: {color: '#000', width: 1.2, dash: '5px,2px'}, layer: 'above'})),
  annotations: annotations
};

Plotly.newPlot('chart', traces, layout, {staticPlot: true, displayModeBar: false});
</script>
</body>
</html>
